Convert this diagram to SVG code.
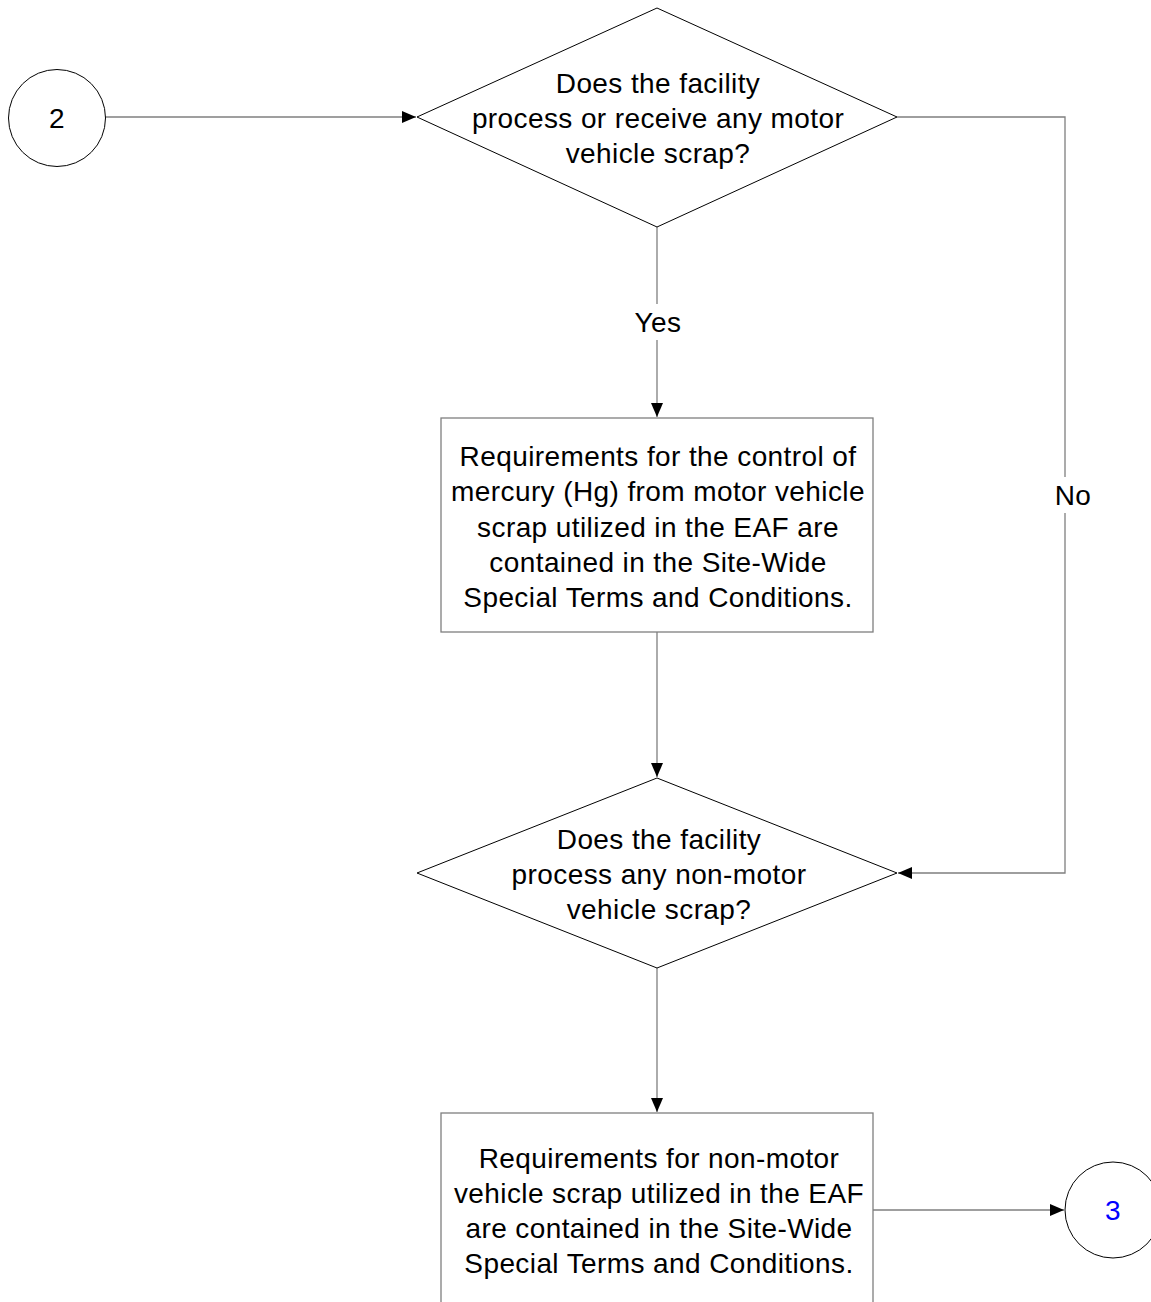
<svg xmlns="http://www.w3.org/2000/svg" width="1151" height="1302" viewBox="0 0 1151 1302">
<style>
text{font-family:"Liberation Sans",Arial,sans-serif;font-size:28px;letter-spacing:0.4px;fill:#000;text-anchor:middle;dominant-baseline:central}
.shape{fill:#fff;stroke:#000;stroke-width:1}
.box{fill:#fff;stroke:#7f7f7f;stroke-width:1.3}
.conn{fill:none;stroke:#7f7f7f;stroke-width:1.3}
.lbl{fill:#fff;stroke:none}
</style>
<defs>
<marker id="arr" viewBox="0 0 14 12" refX="14" refY="6" markerWidth="14" markerHeight="12" markerUnits="userSpaceOnUse" orient="auto">
<path d="M0,0 L14,6 L0,12 Z" fill="#000"/>
</marker>
</defs>
<rect width="1151" height="1302" fill="#fff"/>
<g id="connectors">
<path class="conn" d="M105,117 H416" marker-end="url(#arr)"/>
<path class="conn" d="M657,227 V417" marker-end="url(#arr)"/>
<path class="conn" d="M897,117 H1065 V873 H898" marker-end="url(#arr)"/>
<path class="conn" d="M657,632 V777" marker-end="url(#arr)"/>
<path class="conn" d="M657,968 V1112" marker-end="url(#arr)"/>
<path class="conn" d="M873,1210 H1064" marker-end="url(#arr)"/>
<rect class="lbl" x="628" y="304" width="60" height="36"/>
<text x="658" y="322">Yes</text>
<rect class="lbl" x="1045" y="477" width="56" height="36"/>
<text x="1073" y="495">No</text>
</g>
<g id="node-2">
<circle class="shape" cx="57" cy="118" r="48.5"/>
<text x="57" y="118">2</text>
</g>
<g id="decision-1">
<polygon class="shape" points="657,8 897,117 657,227 417,117"/>
<text x="658" y="83">Does the facility</text>
<text x="658" y="118">process or receive any motor</text>
<text x="658" y="153">vehicle scrap?</text>
</g>
<g id="box-1">
<rect class="box" x="441" y="418" width="432" height="214"/>
<text x="658" y="456">Requirements for the control of</text>
<text x="658" y="491">mercury (Hg) from motor vehicle</text>
<text x="658" y="527">scrap utilized in the EAF are</text>
<text x="658" y="562">contained in the Site-Wide</text>
<text x="658" y="597">Special Terms and Conditions.</text>
</g>
<g id="decision-2">
<polygon class="shape" points="657,778 897,873 657,968 417,873"/>
<text x="659" y="839">Does the facility</text>
<text x="659" y="874">process any non-motor</text>
<text x="659" y="909">vehicle scrap?</text>
</g>
<g id="box-2">
<rect class="box" x="441" y="1113" width="432" height="220"/>
<text x="659" y="1158">Requirements for non-motor</text>
<text x="659" y="1193">vehicle scrap utilized in the EAF</text>
<text x="659" y="1228">are contained in the Site-Wide</text>
<text x="659" y="1263">Special Terms and Conditions.</text>
</g>
<g id="node-3">
<circle class="shape" cx="1113" cy="1210" r="48"/>
<text x="1113" y="1210" style="fill:#0000ff">3</text>
</g>
</svg>
